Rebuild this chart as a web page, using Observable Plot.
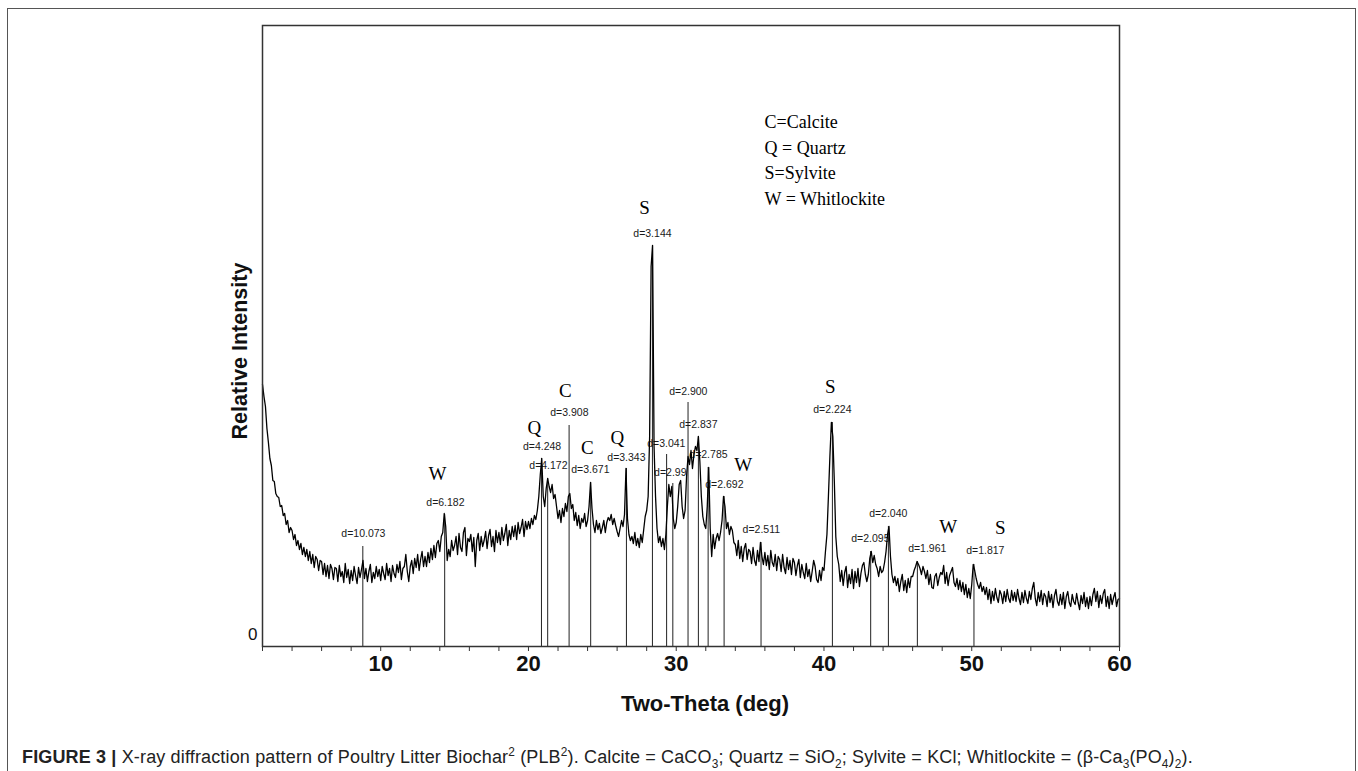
<!DOCTYPE html>
<html><head><meta charset="utf-8">
<script src="https://cdn.jsdelivr.net/npm/d3@7"></script>
<script src="https://cdn.jsdelivr.net/npm/@observablehq/plot@0.6"></script>
<style>
body{margin:0;background:#fff;width:1358px;height:771px;overflow:hidden;position:relative;font-family:"Liberation Sans",Arial,sans-serif;}
#border{position:absolute;left:7px;top:8px;width:1349px;height:820px;border:1.5px solid #555;box-sizing:border-box;}
#chart{position:absolute;left:0;top:0;}
#caption{position:absolute;left:22px;top:747px;font-size:18px;letter-spacing:0.15px;color:#222;white-space:nowrap;line-height:20px;}
#caption sup,#caption sub{font-size:0.66em;line-height:0;}
</style></head><body>
<div id="border"></div>
<div id="chart"></div>
<div id="caption"><b>FIGURE 3 |</b> X-ray diffraction pattern of Poultry Litter Biochar<sup>2</sup> (PLB<sup>2</sup>). Calcite = CaCO<sub>3</sub>; Quartz = SiO<sub>2</sub>; Sylvite = KCl; Whitlockite = (β-Ca<sub>3</sub>(PO<sub>4</sub>)<sub>2</sub>).</div>
<script>
// Diffractogram: relative intensity sampled every 0.1° two-theta, from 2.0° to 60.0°
const thetaStart = 2.0;
const thetaStep = 0.1;
const intensity = [
  262,250,240,218,204,188,181,166,165,153, // 2
  150,149,140,141,131,133,122,126,114,119, // 3
  116,107,112,101,106,97,103,92,99,90,     // 4
  97,86,95,83,92,79,90,87,76,86,           // 5
  85,72,83,70,81,68,82,78,67,79,           // 6
  78,65,81,70,75,64,83,69,77,63,           // 7
  76,66,80,71,63,79,69,77,86,68,           // 8
  78,65,75,82,64,74,68,80,70,77,           // 9
  66,80,73,67,83,71,78,65,81,73,           // 10
  69,82,74,85,67,78,80,92,75,65,           // 11
  80,86,73,88,79,92,76,87,95,80,           // 12
  90,80,94,84,98,87,101,89,103,106,        // 13
  95,110,114,133,120,86,97,90,106,96,      // 14
  101,110,92,113,99,95,114,119,91,108,     // 15
  105,112,95,109,80,106,113,96,110,100,    // 16
  106,115,98,111,117,100,110,95,116,104,   // 17
  114,102,119,106,113,122,101,116,107,120, // 18
  110,121,107,124,113,119,127,110,125,117, // 19
  125,118,128,122,131,127,136,150,172,188, // 20
  150,140,158,168,160,154,162,148,152,140, // 21
  128,136,124,138,130,143,135,150,153,138, // 22
  142,126,134,121,131,118,128,124,133,120, // 23
  126,140,164,138,122,114,126,117,123,113, // 24
  119,126,114,124,129,126,132,122,128,121, // 25
  115,110,118,126,120,132,178,128,112,106, // 26
  110,103,114,101,108,99,112,104,117,130,  // 27
  136,150,210,380,401,200,150,118,104,110, // 28
  100,108,97,112,140,162,150,160,128,118,  // 29
  124,140,162,166,140,128,136,170,190,182, // 30
  196,178,192,200,196,210,185,150,130,122, // 31
  118,140,179,118,90,112,98,108,113,106,   // 32
  114,126,150,140,118,124,112,120,116,104, // 33
  102,91,106,88,100,85,98,103,87,97,       // 34
  95,83,99,86,81,96,85,104,90,82,          // 35
  94,81,91,77,96,84,80,92,76,90,           // 36
  87,75,92,79,73,89,77,86,72,88,           // 37
  84,71,81,87,69,82,74,68,83,70,           // 38
  77,65,75,86,80,67,64,76,66,79,           // 39
  76,95,112,150,190,224,210,165,110,90,    // 40
  82,65,76,61,74,80,59,72,63,77,           // 41
  58,75,64,78,60,73,81,84,72,65,           // 42
  72,88,95,84,91,82,78,70,80,74,           // 43
  76,84,95,112,120,90,72,64,70,61,         // 44
  68,55,65,72,56,66,54,68,59,70,           // 45
  70,76,80,85,82,78,72,80,75,68,           // 46
  76,62,72,59,58,70,73,61,69,74,           // 47
  72,81,63,74,61,71,75,79,64,60,           // 48
  68,57,66,55,64,52,62,49,58,48,           // 49
  62,82,76,68,62,58,64,55,60,52,           // 50
  59,47,57,43,55,46,58,49,44,56,           // 51
  52,43,55,45,57,48,44,56,46,54,           // 52
  45,57,48,42,54,44,56,48,43,55,           // 53
  47,58,64,48,41,54,45,56,42,53,           // 54
  50,40,55,44,52,39,51,57,45,41,           // 55
  52,42,54,38,50,55,44,40,52,45,           // 56
  42,53,44,37,51,43,54,40,49,38,           // 57
  50,41,52,58,45,55,39,51,43,53,           // 58
  57,40,50,38,52,42,49,54,40,47,           // 59
  48                                       // 60
];

// Marked reflections
const peakTheta = [8.79, 14.33, 20.88, 21.30, 22.75, 24.21, 26.63, 28.39, 29.35, 29.77, 30.80, 31.50, 32.16, 33.24, 35.74, 40.57, 43.16, 44.36, 46.32, 50.15];
const peakTop   = [100, 132, 188, 168, 221, 164, 178, 401, 192, 163, 244, 210, 179, 150, 104, 224, 95, 120, 85, 82];
const dLabels   = ["d=10.073","d=6.182","d=4.248","d=4.172","d=3.908","d=3.671","d=3.343","d=3.144","d=3.041","d=2.99","d=2.900","d=2.837","d=2.785","d=2.692","d=2.511","d=2.224","d=2.095","d=2.040","d=1.961","d=1.817"];
const labelTheta = [8.83, 14.38, 20.92, 21.35, 22.77, 24.19, 26.63, 28.39, 29.33, 29.60, 30.82, 31.50, 32.18, 33.26, 35.76, 40.57, 43.14, 44.35, 46.99, 50.92];
const labelI     = [113, 144, 200, 181, 234, 177, 189, 413, 203, 174, 255, 222, 192, 162, 117, 237, 108, 133, 98, 96];

// Phase letters
const phaseLetters = ["W","Q","C","C","Q","S","W","S","W","S"];
const phaseTheta   = [13.84, 20.40, 22.50, 23.99, 26.02, 27.85, 34.54, 40.43, 48.41, 51.93];
const phaseI       = [173, 219, 256, 199, 209, 439, 182, 260, 120, 119];

const legendLines = ["C=Calcite", "Q = Quartz", "S=Sylvite", "W = Whitlockite"];

const minorTicks = [2,4,6,8,10,12,14,16,18,20,22,24,26,28,30,32,34,36,38,40,42,44,46,48,50,52,54,56,58,60];
const majorTicks = [10,20,30,40,50,60];

const profile = intensity.map((v, i) => ({theta: +(thetaStart + i * thetaStep).toFixed(1), I: v}));
const peaks = peakTheta.map((t, i) => ({theta: t, top: peakTop[i], label: dLabels[i], lx: labelTheta[i], ly: labelI[i]}));
const letters = phaseLetters.map((s, i) => ({s, x: phaseTheta[i], y: phaseI[i]}));

const serif = "'Liberation Serif','Times New Roman',serif";

const chart = Plot.plot({
  width: 1358,
  height: 720,
  marginLeft: 262,
  marginRight: 239,
  marginTop: 25,
  marginBottom: 74,
  style: {fontFamily: "'Liberation Sans',Arial,sans-serif", background: "transparent", color: "#111"},
  x: {domain: [2, 60]},
  y: {domain: [0, 621]},
  marks: [
    Plot.ruleX(peaks, {x: "theta", y1: 0, y2: "top", stroke: "#222", strokeWidth: 1}),
    Plot.text(peaks, {x: "lx", y: "ly", text: "label", fontSize: 10.5, fill: "#1a1a1a"}),
    Plot.line(profile, {x: "theta", y: "I", stroke: "#000", strokeWidth: 1.3}),
    Plot.text(letters, {x: "x", y: "y", text: "s", fontFamily: serif, fontSize: 19, fill: "#000"}),
    Plot.text([legendLines.join("\n")], {frameAnchor: "top-left", dx: 502, dy: 84, lineAnchor: "top", textAnchor: "start", lineHeight: 1.43, fontFamily: serif, fontSize: 18, fill: "#000"}),
    Plot.frame({stroke: "#333", strokeWidth: 1.5}),
    Plot.axisX({ticks: minorTicks, tickSize: 5, tickPadding: 4, tickFormat: d => majorTicks.includes(d) ? String(d) : "", fontSize: 22, fontWeight: "bold", label: null, stroke: "#333"}),
    Plot.axisY({ticks: [0], tickSize: 0, tickPadding: 5, fontSize: 17, dy: -12, label: null}),
    Plot.text(["Two-Theta (deg)"], {frameAnchor: "bottom", lineAnchor: "middle", textAnchor: "middle", dx: 14, dy: 57, fontSize: 22, fontWeight: "bold", fill: "#111"}),
    Plot.text(["Relative Intensity"], {frameAnchor: "left", textAnchor: "middle", lineAnchor: "middle", dx: -22, dy: 15, rotate: -90, fontSize: 21.5, fontWeight: "bold", fill: "#111"})
  ]
});
document.getElementById("chart").appendChild(chart);
</script>
</body></html>
